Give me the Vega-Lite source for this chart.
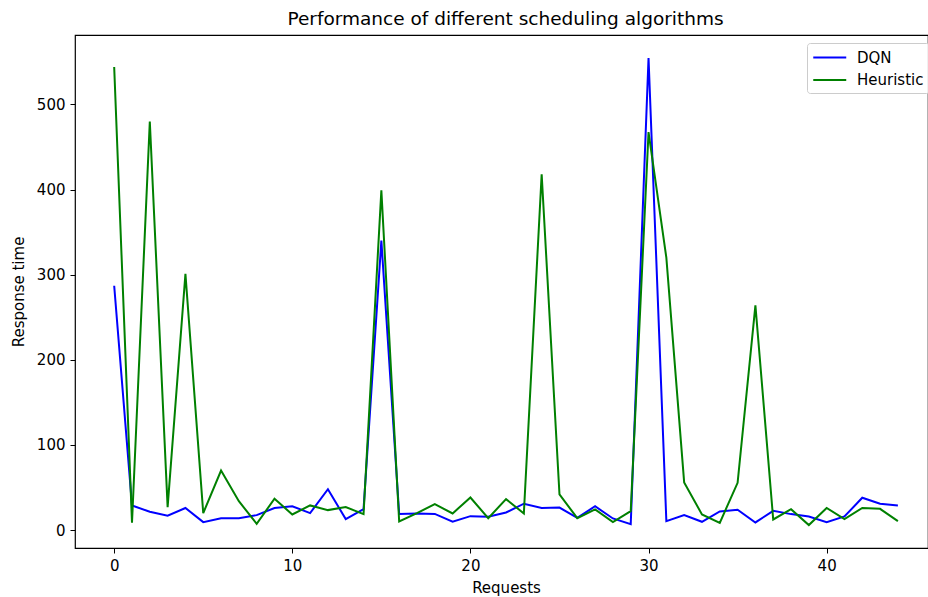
{
  "$schema": "https://vega.github.io/schema/vega-lite/v6.json",
  "autosize": "none",
  "width": 853,
  "height": 513,
  "padding": {"left": 75, "top": 35, "right": 0, "bottom": 49},
  "background": "white",
  "title": {
    "text": "Performance of different scheduling algorithms",
    "font": "DejaVu Sans",
    "fontSize": 18.5,
    "fontWeight": "normal",
    "color": "#000000",
    "anchor": "middle",
    "dx": 4,
    "offset": 7
  },
  "data": {
    "values": [
      {"request": 0, "algorithm": "DQN", "response": 287},
      {"request": 1, "algorithm": "DQN", "response": 29},
      {"request": 2, "algorithm": "DQN", "response": 21.5},
      {"request": 3, "algorithm": "DQN", "response": 17},
      {"request": 4, "algorithm": "DQN", "response": 26},
      {"request": 5, "algorithm": "DQN", "response": 9.4},
      {"request": 6, "algorithm": "DQN", "response": 14},
      {"request": 7, "algorithm": "DQN", "response": 14},
      {"request": 8, "algorithm": "DQN", "response": 17.6},
      {"request": 9, "algorithm": "DQN", "response": 26},
      {"request": 10, "algorithm": "DQN", "response": 28},
      {"request": 11, "algorithm": "DQN", "response": 20},
      {"request": 12, "algorithm": "DQN", "response": 48},
      {"request": 13, "algorithm": "DQN", "response": 13},
      {"request": 14, "algorithm": "DQN", "response": 24.6},
      {"request": 15, "algorithm": "DQN", "response": 340},
      {"request": 16, "algorithm": "DQN", "response": 19},
      {"request": 17, "algorithm": "DQN", "response": 19.6},
      {"request": 18, "algorithm": "DQN", "response": 19},
      {"request": 19, "algorithm": "DQN", "response": 9.8},
      {"request": 20, "algorithm": "DQN", "response": 16.4},
      {"request": 21, "algorithm": "DQN", "response": 15.6},
      {"request": 22, "algorithm": "DQN", "response": 20.7},
      {"request": 23, "algorithm": "DQN", "response": 31},
      {"request": 24, "algorithm": "DQN", "response": 26},
      {"request": 25, "algorithm": "DQN", "response": 26.5},
      {"request": 26, "algorithm": "DQN", "response": 14.5},
      {"request": 27, "algorithm": "DQN", "response": 28},
      {"request": 28, "algorithm": "DQN", "response": 13.7},
      {"request": 29, "algorithm": "DQN", "response": 7},
      {"request": 30, "algorithm": "DQN", "response": 554.5},
      {"request": 31, "algorithm": "DQN", "response": 10.6},
      {"request": 32, "algorithm": "DQN", "response": 17.6},
      {"request": 33, "algorithm": "DQN", "response": 9.8},
      {"request": 34, "algorithm": "DQN", "response": 22},
      {"request": 35, "algorithm": "DQN", "response": 24},
      {"request": 36, "algorithm": "DQN", "response": 9},
      {"request": 37, "algorithm": "DQN", "response": 22.7},
      {"request": 38, "algorithm": "DQN", "response": 18.8},
      {"request": 39, "algorithm": "DQN", "response": 16},
      {"request": 40, "algorithm": "DQN", "response": 9.4},
      {"request": 41, "algorithm": "DQN", "response": 16},
      {"request": 42, "algorithm": "DQN", "response": 38},
      {"request": 43, "algorithm": "DQN", "response": 31},
      {"request": 44, "algorithm": "DQN", "response": 29},
      {"request": 0, "algorithm": "Heuristic", "response": 544},
      {"request": 1, "algorithm": "Heuristic", "response": 8.6},
      {"request": 2, "algorithm": "Heuristic", "response": 480},
      {"request": 3, "algorithm": "Heuristic", "response": 27},
      {"request": 4, "algorithm": "Heuristic", "response": 301},
      {"request": 5, "algorithm": "Heuristic", "response": 20},
      {"request": 6, "algorithm": "Heuristic", "response": 70},
      {"request": 7, "algorithm": "Heuristic", "response": 34},
      {"request": 8, "algorithm": "Heuristic", "response": 7.4},
      {"request": 9, "algorithm": "Heuristic", "response": 36.8},
      {"request": 10, "algorithm": "Heuristic", "response": 18.4},
      {"request": 11, "algorithm": "Heuristic", "response": 29},
      {"request": 12, "algorithm": "Heuristic", "response": 23.5},
      {"request": 13, "algorithm": "Heuristic", "response": 27},
      {"request": 14, "algorithm": "Heuristic", "response": 18.8},
      {"request": 15, "algorithm": "Heuristic", "response": 399},
      {"request": 16, "algorithm": "Heuristic", "response": 10.2},
      {"request": 17, "algorithm": "Heuristic", "response": 20},
      {"request": 18, "algorithm": "Heuristic", "response": 30.5},
      {"request": 19, "algorithm": "Heuristic", "response": 19.6},
      {"request": 20, "algorithm": "Heuristic", "response": 38.3},
      {"request": 21, "algorithm": "Heuristic", "response": 14},
      {"request": 22, "algorithm": "Heuristic", "response": 36.4},
      {"request": 23, "algorithm": "Heuristic", "response": 19.6},
      {"request": 24, "algorithm": "Heuristic", "response": 418},
      {"request": 25, "algorithm": "Heuristic", "response": 42},
      {"request": 26, "algorithm": "Heuristic", "response": 14},
      {"request": 27, "algorithm": "Heuristic", "response": 24.3},
      {"request": 28, "algorithm": "Heuristic", "response": 9.4},
      {"request": 29, "algorithm": "Heuristic", "response": 22.3},
      {"request": 30, "algorithm": "Heuristic", "response": 467.5},
      {"request": 31, "algorithm": "Heuristic", "response": 320},
      {"request": 32, "algorithm": "Heuristic", "response": 56},
      {"request": 33, "algorithm": "Heuristic", "response": 18.4},
      {"request": 34, "algorithm": "Heuristic", "response": 8.6},
      {"request": 35, "algorithm": "Heuristic", "response": 55.5},
      {"request": 36, "algorithm": "Heuristic", "response": 264},
      {"request": 37, "algorithm": "Heuristic", "response": 12.5},
      {"request": 38, "algorithm": "Heuristic", "response": 24.6},
      {"request": 39, "algorithm": "Heuristic", "response": 5.9},
      {"request": 40, "algorithm": "Heuristic", "response": 26},
      {"request": 41, "algorithm": "Heuristic", "response": 13},
      {"request": 42, "algorithm": "Heuristic", "response": 26},
      {"request": 43, "algorithm": "Heuristic", "response": 25},
      {"request": 44, "algorithm": "Heuristic", "response": 10.6}
    ]
  },
  "mark": {"type": "line", "strokeWidth": 2, "interpolate": "linear"},
  "encoding": {
    "x": {
      "field": "request",
      "type": "quantitative",
      "scale": {"domain": [-2.2, 45.69], "nice": false, "zero": false},
      "axis": {
        "title": "Requests",
        "values": [0, 10, 20, 30, 40],
        "titleX": 431,
        "titlePadding": 7
      }
    },
    "y": {
      "field": "response",
      "type": "quantitative",
      "scale": {"domain": [-21, 581.5], "nice": false, "zero": false},
      "axis": {
        "title": "Response time",
        "values": [0, 100, 200, 300, 400, 500],
        "titlePadding": 10
      }
    },
    "color": {
      "field": "algorithm",
      "type": "nominal",
      "scale": {"domain": ["DQN", "Heuristic"], "range": ["#0000ff", "#008000"]},
      "legend": {
        "title": null,
        "orient": "none",
        "legendX": 732,
        "legendY": 8,
        "symbolType": "M-1,0H3",
        "symbolSize": 272,
        "symbolStrokeWidth": 2,
        "labelOffset": 26,
        "labelFont": "DejaVu Sans",
        "labelFontSize": 15,
        "labelColor": "#000000",
        "rowPadding": 4.5,
        "padding": 5,
        "fillColor": "rgba(255,255,255,0.8)",
        "strokeColor": "#cccccc",
        "cornerRadius": 3
      }
    }
  },
  "config": {
    "view": {"stroke": "#000000", "strokeWidth": 1.2},
    "axis": {
      "grid": false,
      "domain": false,
      "tickColor": "#000000",
      "tickSize": 5,
      "tickWidth": 1,
      "labelFont": "DejaVu Sans",
      "labelFontSize": 15,
      "labelColor": "#000000",
      "labelPadding": 5,
      "titleFont": "DejaVu Sans",
      "titleFontSize": 15,
      "titleFontWeight": "normal",
      "titleColor": "#000000"
    }
  }
}
